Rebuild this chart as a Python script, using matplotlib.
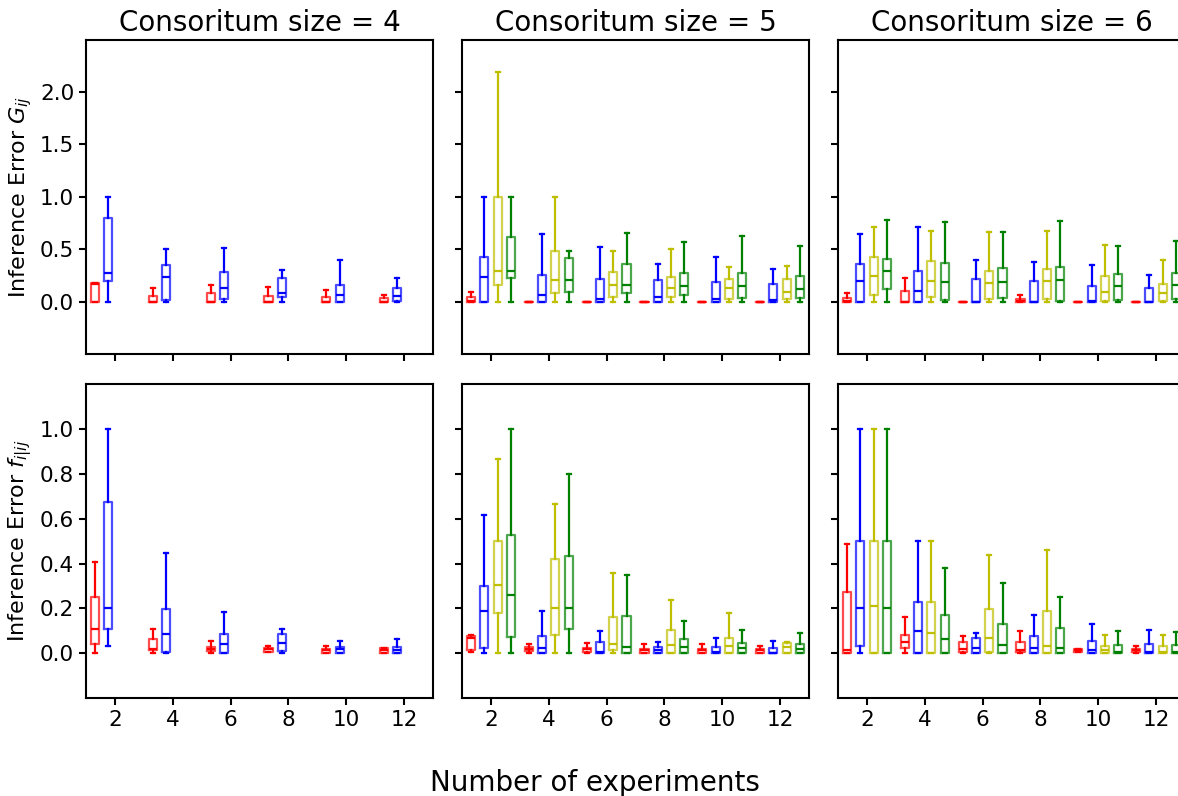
"""
Box plots of the inference error against the number of experiments,
for three consortium sizes. Saves the figure in out.png.
"""
import matplotlib
matplotlib.use('Agg')
import matplotlib.pyplot as plt

# Number of experiments
experiments = [2, 4, 6, 8, 10, 12]
sizes = [4, 5, 6]
colors = ['r', 'b', 'y', 'g']

# Box summaries (min, q1, median, q3, max) for each number of experiments
# Inference error G_ij
g4_r = [(0, 0, 0.17, 0.18, 0.18), (0, 0, 0, 0.055, 0.134), (0, 0, 0, 0.086, 0.163),
        (0, 0, 0, 0.055, 0.14), (0, 0, 0, 0.048, 0.115), (0, 0, 0, 0.03, 0.064)]
g4_b = [(0, 0.20, 0.277, 0.80, 1.0), (0, 0.016, 0.239, 0.353, 0.50), (0, 0.026, 0.134, 0.287, 0.512),
        (0, 0.048, 0.08, 0.223, 0.306), (0, 0, 0.067, 0.163, 0.398), (0, 0.005, 0.058, 0.131, 0.226)]

g5_r = [(0, 0, 0.01, 0.048, 0.095), (0, 0, 0, 0, 0), (0, 0, 0, 0, 0),
        (0, 0, 0, 0, 0), (0, 0, 0, 0, 0), (0, 0, 0, 0, 0)]
g5_b = [(0, 0, 0.239, 0.423, 1.0), (0, 0, 0.067, 0.258, 0.643), (0, 0, 0.029, 0.22, 0.522),
        (0, 0, 0.045, 0.207, 0.363), (0, 0, 0.029, 0.188, 0.427), (0, 0, 0.019, 0.166, 0.312)]
g5_y = [(0, 0.159, 0.296, 1.0, 2.195), (0, 0.08, 0.21, 0.484, 1.0), (0, 0.048, 0.163, 0.28, 0.484),
        (0, 0.048, 0.134, 0.239, 0.503), (0, 0.029, 0.134, 0.22, 0.331), (0, 0.029, 0.095, 0.22, 0.341)]
g5_g = [(0, 0.223, 0.296, 0.614, 1.0), (0, 0.095, 0.21, 0.414, 0.484), (0, 0.08, 0.163, 0.357, 0.659),
        (0, 0.061, 0.153, 0.274, 0.57), (0, 0.035, 0.153, 0.277, 0.63), (0, 0.038, 0.124, 0.242, 0.531)]

g6_r = [(0, 0, 0.01, 0.032, 0.079), (0, 0, 0, 0.105, 0.226), (0, 0, 0, 0, 0),
        (0, 0, 0.005, 0.022, 0.064), (0, 0, 0, 0, 0), (0, 0, 0, 0, 0)]
g6_b = [(0, 0, 0.20, 0.363, 0.649), (0, 0, 0.105, 0.296, 0.713), (0, 0, 0, 0.214, 0.398),
        (0, 0, 0, 0.195, 0.376), (0, 0, 0.005, 0.147, 0.35), (0, 0, 0, 0.134, 0.255)]
g6_y = [(0, 0.061, 0.248, 0.43, 0.713), (0, 0.042, 0.20, 0.391, 0.675), (0, 0.029, 0.181, 0.293, 0.665),
        (0, 0.026, 0.20, 0.315, 0.675), (0, 0.01, 0.095, 0.242, 0.541), (0, 0.01, 0.086, 0.172, 0.398)]
g6_g = [(0, 0.124, 0.296, 0.41, 0.78), (0, 0.019, 0.19, 0.366, 0.76), (0, 0.032, 0.19, 0.325, 0.665),
        (0, 0.01, 0.21, 0.331, 0.77), (0, 0.016, 0.15, 0.261, 0.531), (0, 0.026, 0.163, 0.277, 0.582)]

# Inference error f_i|ij
f4_r = [(0, 0.041, 0.108, 0.249, 0.409), (0, 0.015, 0.018, 0.064, 0.108), (0, 0.009, 0.018, 0.028, 0.055),
        (0.005, 0.007, 0.018, 0.025, 0.035), (0, 0.003, 0.013, 0.018, 0.031), (0, 0.003, 0.016, 0.025, 0.025)]
f4_b = [(0.031, 0.107, 0.20, 0.674, 1.0), (0, 0.007, 0.086, 0.197, 0.449), (0, 0.003, 0.041, 0.086, 0.184),
        (0, 0.009, 0.046, 0.086, 0.108), (0, 0.001, 0.018, 0.028, 0.055), (0, 0.003, 0.015, 0.027, 0.064)]

f5_r = [(0.006, 0.016, 0.07, 0.077, 0.08), (0, 0.01, 0.021, 0.028, 0.041), (0, 0.006, 0.018, 0.024, 0.046),
        (0, 0.003, 0.015, 0.019, 0.041), (0, 0.003, 0.013, 0.019, 0.041), (0, 0.003, 0.015, 0.021, 0.031)]
f5_b = [(0, 0.024, 0.188, 0.301, 0.616), (0, 0, 0.024, 0.077, 0.188), (0, 0, 0.005, 0.049, 0.099),
        (0, 0, 0.015, 0.027, 0.05), (0, 0, 0.005, 0.03, 0.068), (0, 0, 0.003, 0.024, 0.055)]
f5_y = [(0, 0.179, 0.304, 0.499, 0.867), (0, 0.084, 0.20, 0.419, 0.664), (0, 0.016, 0.041, 0.164, 0.357),
        (0, 0, 0.037, 0.104, 0.239), (0, 0, 0.033, 0.07, 0.179), (0, 0, 0.028, 0.046, 0.053)]
f5_g = [(0, 0.073, 0.259, 0.526, 1.0), (0, 0.108, 0.20, 0.433, 0.801), (0, 0, 0.028, 0.168, 0.348),
        (0, 0, 0.028, 0.065, 0.144), (0, 0, 0.024, 0.046, 0.104), (0, 0, 0.018, 0.044, 0.093)]

f6_r = [(0, 0, 0.015, 0.272, 0.489), (0, 0.024, 0.053, 0.08, 0.164), (0, 0.006, 0.021, 0.05, 0.076),
        (0, 0.006, 0.013, 0.05, 0.099), (0.005, 0.008, 0.013, 0.018, 0.02), (0, 0.006, 0.013, 0.021, 0.035)]
f6_b = [(0, 0.031, 0.2, 0.499, 1.0), (0, 0, 0.099, 0.23, 0.499), (0, 0, 0.024, 0.067, 0.093),
        (0, 0, 0.024, 0.077, 0.169), (0, 0, 0.015, 0.055, 0.133), (0, 0, 0.005, 0.043, 0.104)]
f6_y = [(0, 0, 0.209, 0.502, 1.0), (0, 0, 0.09, 0.231, 0.499), (0, 0.006, 0.067, 0.198, 0.439),
        (0, 0, 0.033, 0.188, 0.462), (0, 0, 0.016, 0.035, 0.08), (0, 0, 0.005, 0.033, 0.084)]
f6_g = [(0, 0, 0.2, 0.5, 1.0), (0, 0, 0.064, 0.17, 0.382), (0, 0, 0.037, 0.133, 0.313),
        (0, 0, 0.024, 0.114, 0.253), (0, 0, 0.005, 0.039, 0.099), (0, 0, 0.005, 0.037, 0.095)]

g_data = [[g4_r, g4_b], [g5_r, g5_b, g5_y, g5_g], [g6_r, g6_b, g6_y, g6_g]]
f_data = [[f4_r, f4_b], [f5_r, f5_b, f5_y, f5_g], [f6_r, f6_b, f6_y, f6_g]]
ylabels = ['Inference Error $G_{ij}$', 'Inference Error $f_{i|ij}$']


def draw_boxes(ax, series_list):
    """Draws one box per series and number of experiments."""
    for i, (series, c) in enumerate(zip(series_list, colors)):
        stats = [dict(whislo=s[0], q1=s[1], med=s[2], q3=s[3], whishi=s[4], fliers=[])
                 for s in series]
        pos = [x + (i - 1.5) * 0.46 for x in experiments]
        ax.bxp(stats, positions=pos, widths=0.28, manage_ticks=False,
               boxprops=dict(color=c, lw=1.6, alpha=0.7),
               whiskerprops=dict(color=c, lw=1.6),
               capprops=dict(color=c, lw=1.6),
               medianprops=dict(color=c, lw=1.6))


plt.rcParams['axes.linewidth'] = 1.5
fig = plt.figure(figsize=(11.78, 7.96), dpi=100)

lefts = [86 / 1178, 462 / 1178, 838 / 1178]
bottoms = [1 - 354 / 796, 1 - 698.3 / 796]
w, h = 347 / 1178, 314.3 / 796

for row, (data, ylim, yticks) in enumerate([
        (g_data, (-0.5, 2.5), [0, 0.5, 1.0, 1.5, 2.0]),
        (f_data, (-0.2, 1.2), [0, 0.2, 0.4, 0.6, 0.8, 1.0])]):
    for col in range(3):
        ax = fig.add_axes([lefts[col], bottoms[row], w, h])
        draw_boxes(ax, data[col])
        ax.set_xlim(1, 13)
        ax.set_ylim(*ylim)
        ax.set_xticks(experiments)
        ax.set_yticks(yticks)
        ax.tick_params(width=1.5, length=5, labelsize=15.5)
        if row == 0:
            ax.set_title(f'Consoritum size = {sizes[col]}', fontsize=20)
            ax.tick_params(labelbottom=False)
        if col == 0:
            ax.set_yticklabels([f'{v:.1f}' for v in yticks])
            ax.set_ylabel(ylabels[row], fontsize=16)
        else:
            ax.tick_params(labelleft=False)

fig.text(0.505, 0.006, 'Number of experiments', ha='center', fontsize=20)

# Save figure
plt.savefig('out.png', dpi=100)
